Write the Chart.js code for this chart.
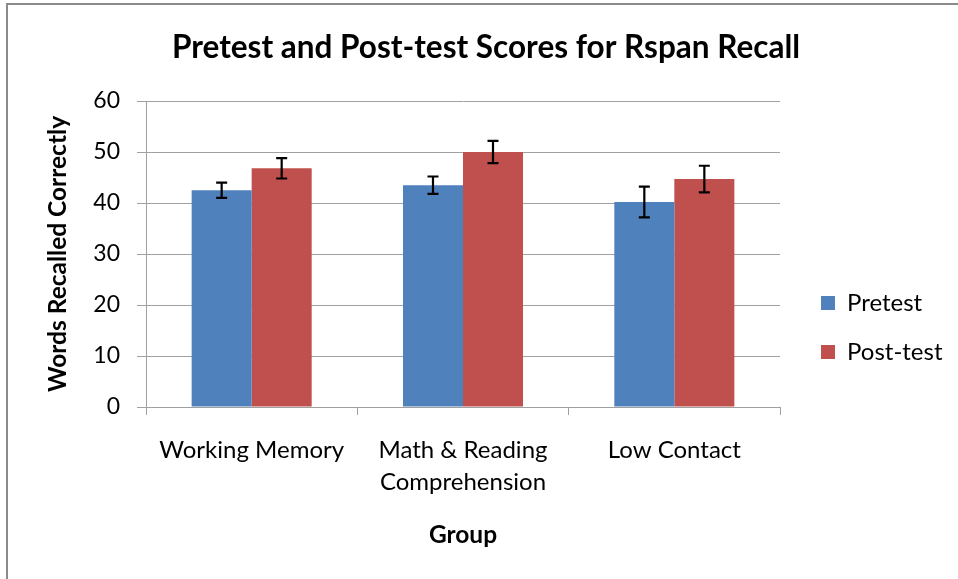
<!DOCTYPE html>
<html><head><meta charset="utf-8">
<script src="https://cdn.jsdelivr.net/npm/chart.js@4/dist/chart.umd.min.js"></script>
<style>
html,body{margin:0;padding:0;background:#fff;overflow:hidden;width:958px;height:579px;}
#frame{position:absolute;left:6px;top:3px;width:1200px;height:900px;border:2px solid #8a8a8a;box-sizing:border-box;}
#wrap{position:absolute;left:0;top:0;width:958px;height:579px;}
</style></head><body>
<div id="frame"></div>
<div id="wrap"><canvas id="c" width="958" height="579"></canvas></div>
<script>
const categories = [["Working Memory"], ["Math & Reading", "Comprehension"], ["Low Contact"]];
const seriesNames = ["Pretest", "Post-test"];
const pretest = [42.5, 43.5, 40.2];
const posttest = [46.8, 50.0, 44.7];
const pretestErr = [1.5, 1.7, 3.0];
const posttestErr = [2.0, 2.2, 2.6];
const yTicks = [0, 10, 20, 30, 40, 50, 60];

const FONT = 'Lato, "Open Sans", sans-serif';
Chart.defaults.font.family = FONT;
Chart.defaults.color = '#000';

const errorBars = {
  id: 'errorBars',
  afterDatasetsDraw(chart) {
    const ctx = chart.ctx, ys = chart.scales.y;
    chart.data.datasets.forEach((ds, i) => {
      const meta = chart.getDatasetMeta(i);
      meta.data.forEach((bar, j) => {
        const v = ds.data[j], e = ds.errorValues[j];
        const yt = ys.getPixelForValue(v + e), yb = ys.getPixelForValue(v - e);
        const x = bar.x, cap = 5.5;
        ctx.save();
        ctx.strokeStyle = '#000';
        ctx.lineWidth = 2.2;
        ctx.beginPath();
        ctx.moveTo(x, yt); ctx.lineTo(x, yb);
        ctx.moveTo(x - cap, yt); ctx.lineTo(x + cap, yt);
        ctx.moveTo(x - cap, yb); ctx.lineTo(x + cap, yb);
        ctx.stroke();
        ctx.restore();
      });
    });
  }
};

const blockPlace = {
  id: 'blockPlace',
  afterLayout(chart) {
    const lg = chart.legend, ca = chart.chartArea, tb = chart.titleBlock;
    if (tb) { tb.left = 14; tb.right = chart.width; }
    if (!lg) return;
    lg.left = ca.right + 16;
    lg.right = lg.left + lg.width + 40;
    lg.top = ca.top + 165;
    lg.bottom = lg.top + 300;
  }
};

new Chart(document.getElementById('c'), {
  type: 'bar',
  data: {
    labels: categories,
    datasets: [
      { label: seriesNames[0], data: pretest, errorValues: pretestErr, backgroundColor: '#4F81BD', borderWidth: 0 },
      { label: seriesNames[1], data: posttest, errorValues: posttestErr, backgroundColor: '#C0504D', borderWidth: 0 }
    ]
  },
  options: {
    responsive: false,
    animation: false,
    layout: { padding: { left: 14, right: 178, top: 0, bottom: 0 } },
    datasets: { bar: { categoryPercentage: 0.568, barPercentage: 1.0 } },
    plugins: {
      title: {
        display: true,
        text: 'Pretest and Post-test Scores for Rspan Recall',
        font: { size: 31.5, weight: 'bold', lineHeight: 1.2 },
        color: '#000',
        padding: { top: 29.1, bottom: 34.1 }
      },
      legend: {
        position: 'chartArea',
        align: 'start',
        labels: { font: { size: 24 }, boxWidth: 14, boxHeight: 14, padding: 25, color: '#000' }
      },
      tooltip: { enabled: false }
    },
    scales: {
      x: {
        grid: { drawOnChartArea: false, drawTicks: true, tickLength: 8, color: '#a0a0a0', offset: true },
        border: { color: '#a0a0a0' },
        ticks: { font: { size: 24, lineHeight: 32 / 24 }, color: '#000', padding: 19, maxRotation: 0, autoSkip: false },
        title: { display: true, text: 'Group', font: { size: 24.5, weight: 'bold', lineHeight: 1.2 }, color: '#000', padding: { top: 20, bottom: 29.3 } },
        afterFit(s) { s.height = 172; }
      },
      y: {
        min: 0, max: 60,
        afterBuildTicks(s) { s.ticks = yTicks.map(v => ({ value: v })); },
        grid: { color: '#a0a0a0', tickLength: 9 },
        border: { color: '#a0a0a0' },
        ticks: { font: { size: 23 }, color: '#000', padding: 17 },
        title: { display: true, text: 'Words Recalled Correctly', font: { size: 24.5, weight: 'bold', lineHeight: 1.2 }, color: '#000', padding: { top: 29.3, bottom: 0 } },
        afterFit(s) { s.width = 132; }
      }
    }
  },
  plugins: [errorBars, blockPlace]
});
</script>
</body></html>
